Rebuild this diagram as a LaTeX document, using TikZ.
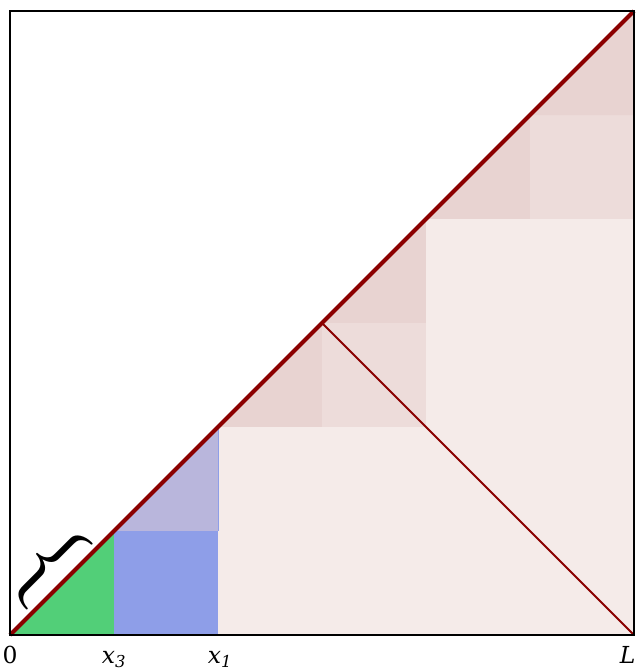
\documentclass[tikz,border=0pt]{standalone}
\usepackage{fontspec}
\setmainfont{DejaVu Serif}
\newfontfamily\bracefont{Latin Modern Roman}
\definecolor{pinklight}{HTML}{F5EBE9}
\definecolor{pinkmid}{HTML}{EDDCDA}
\definecolor{pinkdark}{HTML}{E8D3D1}
\definecolor{bluesq}{HTML}{8E9EE8}
\definecolor{purpletri}{HTML}{B9B6DC}
\definecolor{greentri}{HTML}{52CF78}
\definecolor{redline}{HTML}{8B0000}
\begin{document}
\begin{tikzpicture}[x=3.12cm,y=3.12cm,lab/.style={anchor=base,font=\fontsize{20}{24}\selectfont}]
  \useasboundingbox (-0.096,-0.337) rectangle (6.067,6.106);
  % pink blocks under the diagonal
  \fill[pinklight] (2,0) rectangle (6,2);
  \fill[pinklight] (4,2) rectangle (6,4);
  \fill[pinkmid] (3,2) rectangle (4,3);
  \fill[pinkmid] (5,4) rectangle (6,5);
  \fill[pinkdark] (2,2) -- (3,3) -- (3,2) -- cycle;
  \fill[pinkdark] (3,3) -- (4,4) -- (4,3) -- cycle;
  \fill[pinkdark] (4,4) -- (5,5) -- (5,4) -- cycle;
  \fill[pinkdark] (5,5) -- (6,6) -- (6,5) -- cycle;
  % first two steps
  \fill[bluesq] (1,0) rectangle (2,1);
  \fill[purpletri] (1,1) -- (2,2) -- (2,1) -- cycle;
  \draw[bluesq,line width=0.6pt] (2,1) -- (2,2);
  \fill[greentri] (0,0) -- (1,1) -- (1,0) -- cycle;
  \draw[redline,line width=1.6pt] (3,3) -- (6,0);
  \draw[redline,line width=3.4pt] (0,0) -- (6,6);
  \draw[line width=2pt] (0,0) rectangle (6,6);
  \node[rotate=-45,inner sep=0pt] (brace) at (0.37,0.67)
    {\bracefont\fontsize{80}{80}\selectfont\{};
  \node[lab] (zero) at (0,-0.275) {0};
  \node[lab] (xthree) at (1,-0.275) {\textit{x\textsubscript{3}}};
  \node[lab] (xone) at (2.02,-0.275) {\textit{x\textsubscript{1}}};
  \node[lab] (ell) at (5.94,-0.275) {\textit{L}};
\end{tikzpicture}
\end{document}
